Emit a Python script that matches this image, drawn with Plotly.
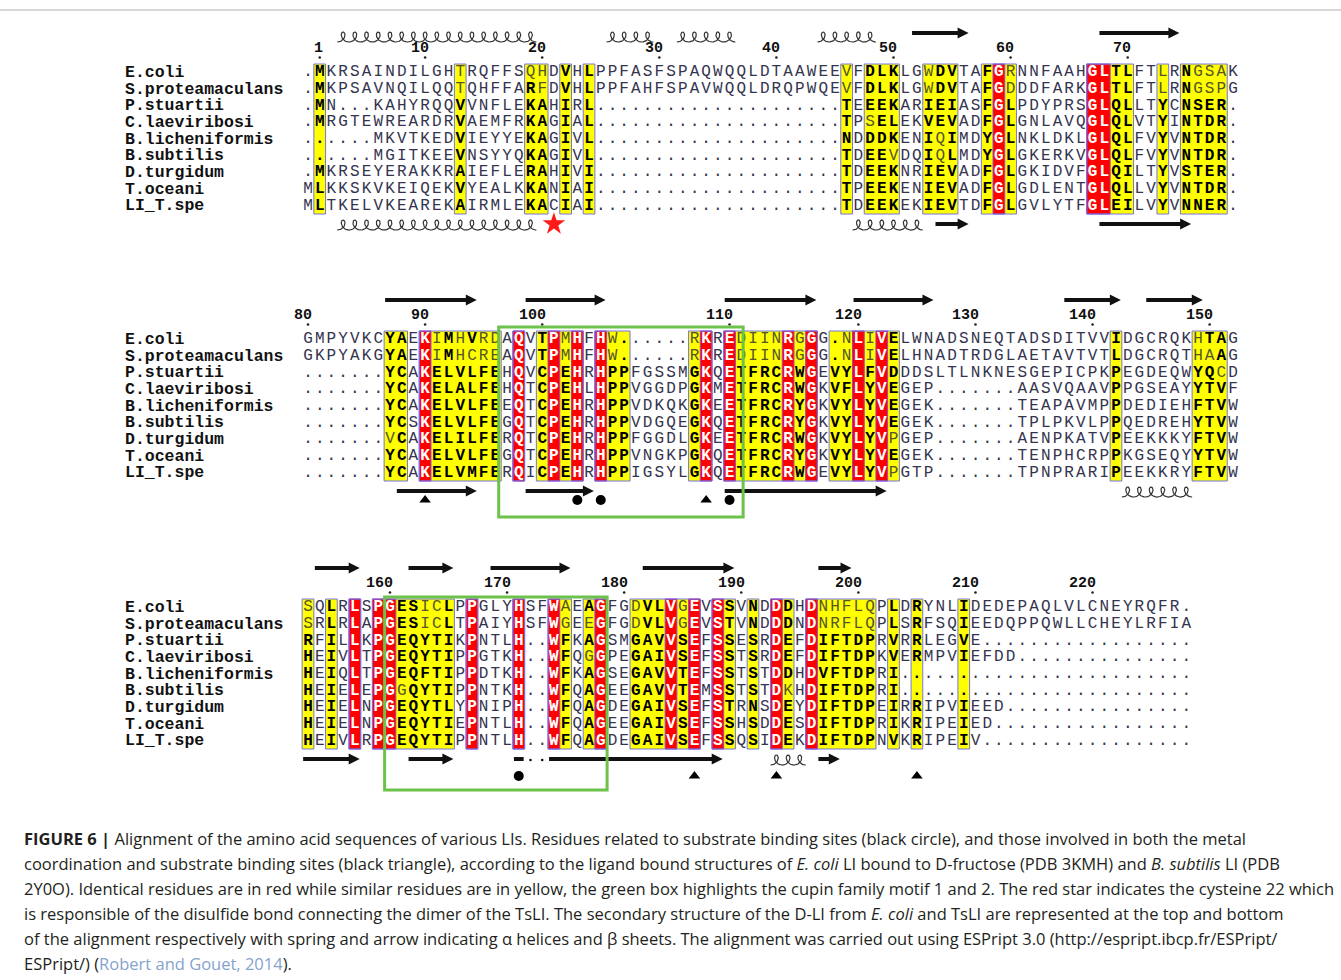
import math
import numpy as np
import plotly.graph_objects as go

# ---------------------------------------------------------------- data
SPECIES = ["E.coli", "S.proteamaculans", "P.stuartii", "C.laeviribosi",
           "B.licheniformis", "B.subtilis", "D.turgidum", "T.oceani", "LI_T.spe"]

BLOCK1 = [
    ".MKRSAINDILGHTRQFFSQHDVHLPPFASFSPAQWQQLDTAAWEEVFDLKLGWDVTAFGRNNFAAHGLTLFTLRNGSAK",
    ".MKPSAVNQILQQTQHFFARFDVHLPPFAHFSPAVWQQLDRQPWQEVFDLKLGWDVTAFGDDDFARKGLTLFTLRNGSPG",
    ".MN...KAHYRQQVVNFLEKAHIRL" + "." * 21 + "TEEEKARIEIASFGLPDYPRSGLQLLTYCNSER.",
    ".MRGTEWREARDRVAEMFRKAGIAL" + "." * 21 + "TPSELEKVEVADFGLGNLAVQGLQLVTYINTDR.",
    "......MKVTKEDVIEYYEKAGIVL" + "." * 21 + "NDDDKENIQIMDYGLNKLDKLGLQLFVYVNTDR.",
    "......MGITKEEVNSYYQKAGIVL" + "." * 21 + "TDEEVDQIQLMDYGLGKERKVGLQLFVYVNTDR.",
    ".MKRSEYERAKKRAIEFLERAHIVI" + "." * 21 + "TDEEKNRIEVADFGLGKIDVFGLQILTYVSTER.",
    "MLKKSKVKEIQEKVYEALKKANIAI" + "." * 21 + "TPEEKENIEVADFGLGDLENTGLQLLVYVNTDR.",
    "MLTKELVKEAREKAIRMLEKACIAI" + "." * 21 + "TDEEKEKIEVTDFGLGVLYTFGLEILVYVNNER.",
]
BLOCK2 = [
    "GMPYVKCYAEKIMHVRDAQVTPMHFHW......RKREDIINRGGG.NLIVELWNADSNEQTADSDITVVIDGCRQKHTAG",
    "GKPYAKGYAEKIMHCREAQVTPMHFHW......RKREDIINRGGG.NLIVELHNADTRDGLAETAVTVTLDGCRQTHAAG",
    ".......YCAKELVLFEHQVCPEHRHPPFGSSMGKQETFRCRWGEVYLFVDDDSLTLNKNESGEPICPKPEGDEQWYQCD",
    ".......YCAKELALFEHQTCPEHLHPPVGGDPGKMETFRCRWGKVFLYVEGEP.......AASVQAAVPPGSEAYYTVF",
    ".......YCAKELVLFEEQTCPEHRHPPVDKQKGKEETFRCRYGKVYLYVEGEK.......TEAPAVMPPDEDIEHFTVW",
    ".......YCSKELVLFEGQTCPEHRHPPVDGQEGKQETFRCRYGKVYLYVEGEK.......TPLPKVLPPQEDREHYTVW",
    ".......VCAKELILFERQTCPEHRHPPFGGDLGKEETFRCRWGKVYLYVPGEP.......AENPKATVPEEKKKYFTVW",
    ".......YCAKELVLFEGQTCPEHRHPPVNGKPGKQETFRCRYGKVYLYVEGEK.......TENPHCRPPKGSEQYYTVW",
    ".......YCAKELVMFERQICPEHRHPPIGSYLGKQETFRCRWGEVYLYVPGTP.......TPNPRARIPEEKKRYFTVW",
]
BLOCK3 = [s.ljust(76, ".") for s in [
    "SQLRLSPGESICLPPGLYHSFWAEAGFGDVLVGEVSSVNDDDHDNHFLQPLDRYNLIDEDEPAQLVLCNEYRQFR.",
    "SRLRLAPGESICLTPAIYHSFWGEEGFGDVLVGEVSTVNDDDNDNRFLQPLSRFSQIEEDQPPQWLLCHEYLRFIA",
    "RFILLKPGEQYTIKPNTLH..WFKAGSMGAVVSEFSSESRDEFDIFTDPRVRRLEGVE",
    "HEIVLTPGEQYTIPPGTKH..WFQGGPEGAIVSEFSSTSRDEFDIFTDPKVERMPVIEFDD",
    "HEIQLTPGEQFTIPPDTKH..WFKAGSEGAVVTEFSSTSTDDHDVFTDPRI",
    "HEIELEPGGQYTIPPNTKH..WFQAGEEGAVVTEMSSTSTDKHDIFTDPRI",
    "HEIELNPGEQYTLYPNIPH..WFQAGDEGAIVSEFSTRNSDEYDIFTDPEIRRIPVIEED",
    "HEIELNPGEQYTIEPNTLH..WFQAGEEGAIVSEFSSHSDDESDIFTDPRIKRIPEIED",
    "HEIVLRPGEQYTIPPNTLH..WFQAGDEGAIVSEFSSQSIDEKDIFTDPNVKRIPEIV",
]]
FIRST_RESIDUE = [1, 80, 153]   # E. coli numbering at the first residue of each block

# strictly identical (red) and similar (yellow) columns, 1-based
IDENT1 = [60, 68, 69]
SIMIL1 = [2, 14, 20, 21, 23, 25, 47, 49, 50, 51, 54, 55, 56, 59, 61, 70, 71, 74, 76, 77, 78, 79]
IDENT2 = [11, 19, 22, 24, 26, 35, 37, 42, 44, 48, 50]
SIMIL2 = [8, 9, 12, 13, 14, 15, 16, 17, 21, 23, 27, 28, 34, 38, 39, 40, 41, 43, 46, 47, 49, 51,
          70, 77, 78, 79]
IDENT3 = [5, 7, 8, 15, 19, 22, 26, 32, 34, 36, 41, 44]
SIMIL3 = [1, 3, 9, 10, 11, 12, 13, 23, 25, 29, 30, 31, 33, 37, 39, 42, 45, 46, 47, 48, 49, 51, 53, 57]

# rows whose residue in a similarity column is not part of the consensus group
WEAK1 = {14: [0, 1], 20: [0], 21: [0, 1], 47: [0, 1], 49: [3], 51: [5], 54: [0, 1], 55: [4, 5],
         61: [0, 1], 74: [0, 1], 77: [0, 1], 78: [0, 1], 79: [0, 1]}
WEAK2 = {8: [6], 12: [0, 1], 14: [0, 1], 15: [1], 16: [0, 1], 17: [0, 1], 23: [0, 1], 27: [0, 1],
         34: [0, 1], 38: [0, 1], 39: [0, 1], 40: [0, 1], 41: [0, 1], 43: [0, 1], 47: [0, 1],
         49: [0, 1], 51: [6, 8], 77: [0, 1], 78: [1], 79: [2]}
WEAK3 = {1: [0, 1], 9: [5], 11: [0, 1], 12: [0, 1], 23: [0, 1], 25: [1, 3], 29: [0, 1],
         33: [0, 1], 42: [5], 45: [0, 1], 46: [0, 1], 47: [0, 1], 48: [0, 1], 49: [0, 1]}

# secondary structure (kind, first column, last column): H helix, E strand,
# B strand segment without head, G gap inside a strand
SS_TOP1 = [("H", 4, 20), ("H", 27, 30), ("H", 33, 37), ("H", 45, 49), ("E", 53, 57), ("E", 69, 75)]
SS_BOT1 = [("H", 4, 20), ("H", 48, 53), ("E", 55, 57), ("E", 69, 76)]
SS_TOP2 = [("E", 8, 15), ("E", 20, 26), ("E", 37, 44), ("E", 48, 54), ("E", 66, 70), ("E", 73, 77)]
SS_BOT2 = [("E", 9, 15), ("E", 20, 25), ("E", 37, 50), ("H", 71, 76)]
SS_TOP3 = [("E", 2, 5), ("E", 10, 13), ("E", 17, 23), ("E", 30, 37), ("E", 45, 47)]
SS_BOT3 = [("E", 1, 5), ("E", 10, 13), ("B", 19, 19), ("G", 20, 21), ("E", 22, 36),
           ("H", 41, 43), ("E", 45, 46)]

# ligand sites: (kind, column); dot = substrate binding, tri = metal + substrate
SITES1 = []
SITES2 = [("tri", 11), ("dot", 24), ("dot", 26), ("tri", 35), ("dot", 37)]
SITES3 = [("dot", 19), ("tri", 34), ("tri", 41), ("tri", 53)]
STAR_COL = 22          # Cys22 of TsLI, first block

# cupin motifs 1 and 2: (block, first column, last column)
MOTIFS = [(1, 18, 38), (2, 8, 26)]

CAPTION = [
    "<b>FIGURE 6 |</b> Alignment of the amino acid sequences of various LIs. Residues related to "
    "substrate binding sites (black circle), and those involved in both the metal",
    "coordination and substrate binding sites (black triangle), according to the ligand bound "
    "structures of <i>E. coli</i> LI bound to D-fructose (PDB 3KMH) and <i>B. subtilis</i> LI (PDB",
    "2Y0O). Identical residues are in red while similar residues are in yellow, the green box "
    "highlights the cupin family motif 1 and 2. The red star indicates the cysteine 22 which",
    "is responsible of the disulfide bond connecting the dimer of the TsLI. The secondary structure "
    "of the D-LI from <i>E. coli</i> and TsLI are represented at the top and bottom",
    "of the alignment respectively with spring and arrow indicating α helices and β sheets. The "
    "alignment was carried out using ESPript 3.0 (http://espript.ibcp.fr/ESPript/",
    "ESPript/) (<span style='color:#86a3cc'>Robert and Gouet, 2014</span>).",
]

BLOCKS = [BLOCK1, BLOCK2, BLOCK3]
IDENT = [IDENT1, IDENT2, IDENT3]
SIMIL = [SIMIL1, SIMIL2, SIMIL3]
WEAK = [WEAK1, WEAK2, WEAK3]
SS_TOP = [SS_TOP1, SS_TOP2, SS_TOP3]
SS_BOT = [SS_BOT1, SS_BOT2, SS_BOT3]
SITES = [SITES1, SITES2, SITES3]

# ---------------------------------------------------------------- layout
W, H = 1341, 980
X0, PITCH = 308.0, 11.71
BLOCK_TOP = [64.0, 331.0, 599.0]
ROW_H = 16.67
NROW = len(SPECIES)
SITE_DY = [20, 19, 27]
MONO = "Liberation Mono"
CAPTION_FONT = "Open Sans"

RED, YEL = "#ff0000", "#ffff00"
FRAME = "#7373e6"
RED_EDGE = "#9b40c8"
GREEN = "#6cc24a"
PLAIN, WEAKC = "#34344e", "#55552b"

# green box padding (left, right, top, bottom) per block
MOTIF_PAD = {1: (2.5, -4.0, 4, 36), 2: (-0.5, 0.5, 2, 41)}


def colx(c):
    return X0 + (c - 1) * PITCH


def rowy(b, r):
    return BLOCK_TOP[b] + ROW_H * (r + 0.5)


def block_bottom(b):
    return BLOCK_TOP[b] + ROW_H * NROW


def runs(cols):
    cols = sorted(cols)
    out = []
    for c in cols:
        if out and c == out[-1][1] + 1:
            out[-1][1] = c
        else:
            out.append([c, c])
    return out


shapes = []
traces = []

# column shading and frames
for b in range(3):
    top, bot = BLOCK_TOP[b], block_bottom(b)
    for cols, fill in ((SIMIL[b], YEL), (IDENT[b], RED)):
        for c1, c2 in runs(cols):
            shapes.append(dict(type="rect", xref="x", yref="y",
                               x0=colx(c1) - PITCH / 2, x1=colx(c2) + PITCH / 2,
                               y0=top, y1=bot, fillcolor=fill, line=dict(width=0),
                               layer="below"))
    for c1, c2 in runs(IDENT[b]):
        shapes.append(dict(type="rect", xref="x", yref="y",
                           x0=colx(c1) - PITCH / 2, x1=colx(c2) + PITCH / 2,
                           y0=top, y1=bot, line=dict(color=RED_EDGE, width=1),
                           fillcolor="rgba(0,0,0,0)", layer="below"))
    for c1, c2 in runs(list(SIMIL[b]) + list(IDENT[b])):
        shapes.append(dict(type="rect", xref="x", yref="y",
                           x0=colx(c1) - PITCH / 2, x1=colx(c2) + PITCH / 2,
                           y0=top, y1=bot, line=dict(color=FRAME, width=1),
                           fillcolor="rgba(0,0,0,0)", layer="below"))

# residues
groups = {k: dict(x=[], y=[], t=[]) for k in ("plain", "weak", "strong", "ident")}
for b, block in enumerate(BLOCKS):
    for r, seq in enumerate(block):
        for i, ch in enumerate(seq):
            c = i + 1
            if c in IDENT[b]:
                g = "ident"
            elif c in SIMIL[b]:
                g = "weak" if r in WEAK[b].get(c, []) else "strong"
            else:
                g = "plain"
            groups[g]["x"].append(colx(c))
            groups[g]["y"].append(rowy(b, r))
            groups[g]["t"].append(ch)

styles = {"plain": (PLAIN, "normal"), "weak": (WEAKC, "normal"),
          "strong": ("#000000", "bold"), "ident": ("#ffffff", "bold")}
for g, d in groups.items():
    col, wt = styles[g]
    traces.append(go.Scatter(x=d["x"], y=d["y"], text=d["t"], mode="text",
                             textposition="middle center", hoverinfo="skip",
                             textfont=dict(family=MONO, size=16, color=col, weight=wt)))

annotations = []
# species names
for b in range(3):
    for r, name in enumerate(SPECIES):
        annotations.append(dict(x=123, y=rowy(b, r), xref="x", yref="y", text=name,
                                showarrow=False, xanchor="left", yanchor="middle",
                                font=dict(family=MONO, size=16.5, color="#111111",
                                          weight="bold")))

# numbering of the first sequence
tick_x, tick_y = [], []
for b, block in enumerate(BLOCKS):
    n = FIRST_RESIDUE[b] - 1
    for i, ch in enumerate(block[0]):
        if ch == ".":
            continue
        n += 1
        if n == 1 or n % 10 == 0:
            c = i + 1
            annotations.append(dict(x=colx(c) + 5.5, y=BLOCK_TOP[b] - 16, xref="x", yref="y",
                                    text=str(n), showarrow=False, xanchor="right",
                                    yanchor="middle",
                                    font=dict(family=MONO, size=15, color="#111111",
                                              weight="bold")))
            tick_x.append(colx(c))
            tick_y.append(BLOCK_TOP[b] - 6.5)
traces.append(go.Scatter(x=tick_x, y=tick_y, mode="markers", hoverinfo="skip",
                         marker=dict(size=2.6, color="#222222")))


# secondary structure
def arrow_path(c1, c2, yc, head=True):
    xl, xr = colx(c1) - PITCH / 2 + 1, colx(c2) + PITCH / 2 - 1
    s, hh, hl = 2.0, 5.5, 11.0
    if not head:
        return f"M{xl},{yc - s} L{xr},{yc - s} L{xr},{yc + s} L{xl},{yc + s} Z"
    xh = xr - hl
    return (f"M{xl},{yc - s} L{xh},{yc - s} L{xh},{yc - hh} L{xr},{yc} "
            f"L{xh},{yc + hh} L{xh},{yc + s} L{xl},{yc + s} Z")


hx, hy = [], []
gap_x, gap_y = [], []


def add_helix(c1, c2, yc):
    # one coil per residue: a prolate cycloid with the loops on top
    n = c2 - c1 + 1
    xl = colx(c1) - PITCH / 2
    rr = PITCH / (2 * math.pi)
    a, amp = 4.4, 5.0
    th = np.linspace(math.pi, math.pi + 2 * math.pi * n, 48 * n)
    hx.extend(list(xl + rr * (th - math.pi) - a * np.sin(th)) + [None])
    hy.extend(list(yc - amp * np.cos(th)) + [None])


for b in range(3):
    top, bot = BLOCK_TOP[b], block_bottom(b)
    for elems, y_e, y_h in ((SS_TOP[b], top - 31, top - 27), (SS_BOT[b], bot + 10, bot + 11)):
        for kind, c1, c2 in elems:
            if kind == "H":
                add_helix(c1, c2, y_h)
            elif kind in ("E", "B"):
                shapes.append(dict(type="path", xref="x", yref="y",
                                   path=arrow_path(c1, c2, y_e, head=(kind == "E")),
                                   fillcolor="#111111", line=dict(width=0)))
            elif kind == "G":
                for c in range(c1, c2 + 1):
                    gap_x.append(colx(c))
                    gap_y.append(y_e + 1)

traces.append(go.Scatter(x=hx, y=hy, mode="lines", hoverinfo="skip",
                         line=dict(color="#333333", width=1.2)))
traces.append(go.Scatter(x=gap_x, y=gap_y, mode="markers", hoverinfo="skip",
                         marker=dict(size=2.6, color="#111111")))

# ligand-site symbols
for b in range(3):
    for kind, sym, size in (("dot", "circle", 10), ("tri", "triangle-up", 10)):
        pts = [c for k, c in SITES[b] if k == kind]
        if pts:
            traces.append(go.Scatter(
                x=[colx(c) for c in pts], y=[block_bottom(b) + SITE_DY[b]] * len(pts),
                mode="markers", hoverinfo="skip",
                marker=dict(symbol=sym, size=size, color="#000000")))

traces.append(go.Scatter(x=[colx(STAR_COL)], y=[block_bottom(0) + 10], mode="markers",
                         hoverinfo="skip",
                         marker=dict(symbol="star", size=17, color="#ff1a1a",
                                     line=dict(width=0))))

# cupin motif boxes
for b, c1, c2 in MOTIFS:
    pl, pr, pt, pb = MOTIF_PAD[b]
    shapes.append(dict(type="rect", xref="x", yref="y",
                       x0=colx(c1) - PITCH / 2 - pl, x1=colx(c2) + PITCH / 2 + pr,
                       y0=BLOCK_TOP[b] - pt, y1=block_bottom(b) + pb,
                       line=dict(color=GREEN, width=3), fillcolor="rgba(0,0,0,0)"))

# frame line at the top of the figure panel
shapes.append(dict(type="line", xref="x", yref="y", x0=0, x1=W, y0=10, y1=10,
                   line=dict(color="#b0b0b0", width=1)))

# caption
for k, line in enumerate(CAPTION):
    annotations.append(dict(x=22, y=838 + 25 * k, xref="x", yref="y", text=line,
                            showarrow=False, xanchor="left", yanchor="middle",
                            font=dict(family=CAPTION_FONT, size=16.5, color="#231f20")))

fig = go.Figure(data=traces)
fig.update_layout(
    width=W, height=H, margin=dict(l=0, r=0, t=0, b=0), autosize=False,
    paper_bgcolor="white", plot_bgcolor="white", showlegend=False,
    xaxis=dict(range=[0, W], visible=False, fixedrange=True),
    yaxis=dict(range=[H, 0], visible=False, fixedrange=True),
    shapes=shapes, annotations=annotations,
)
fig.write_html("out.html")
